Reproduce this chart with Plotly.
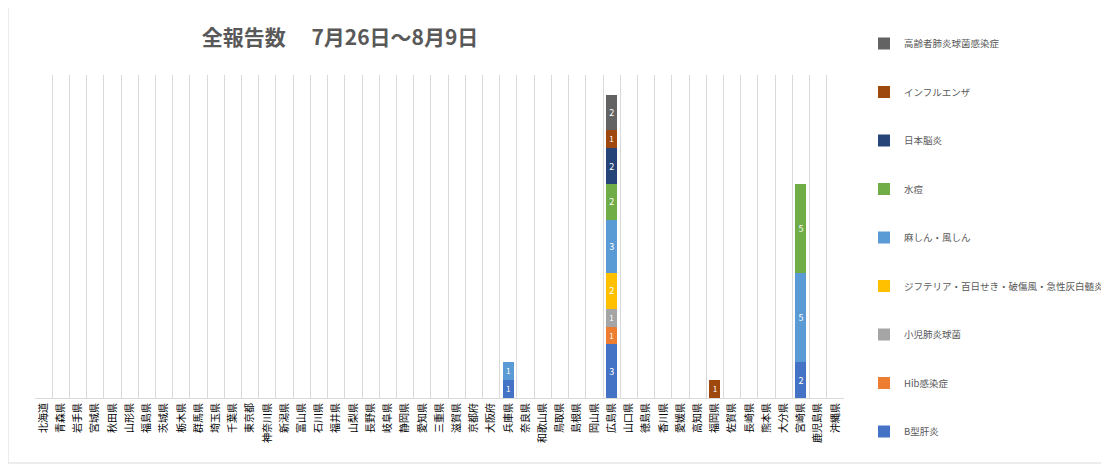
import plotly.graph_objects as go

prefectures = ["北海道", "青森県", "岩手県", "宮城県", "秋田県", "山形県", "福島県", "茨城県", "栃木県", "群馬県",
               "埼玉県", "千葉県", "東京都", "神奈川県", "新潟県", "富山県", "石川県", "福井県", "山梨県", "長野県",
               "岐阜県", "静岡県", "愛知県", "三重県", "滋賀県", "京都府", "大阪府", "兵庫県", "奈良県", "和歌山県",
               "鳥取県", "島根県", "岡山県", "広島県", "山口県", "徳島県", "香川県", "愛媛県", "高知県", "福岡県",
               "佐賀県", "長崎県", "熊本県", "大分県", "宮崎県", "鹿児島県", "沖縄県"]

series_names = ["B型肝炎", "Hib感染症", "小児肺炎球菌", "ジフテリア・百日せき・破傷風・急性灰白髄炎",
                "麻しん・風しん", "水痘", "日本脳炎", "インフルエンザ", "高齢者肺炎球菌感染症"]
series_colors = ["#4472C4", "#ED7D31", "#A5A5A5", "#FFC000", "#5B9BD5", "#70AD47", "#264478", "#9E480E", "#636363"]

def pref_values(d):
    return [d.get(p, 0) for p in prefectures]

b_kanen = pref_values({"兵庫県": 1, "広島県": 3, "宮崎県": 2})
hib = pref_values({"広島県": 1})
shoni_haien = pref_values({"広島県": 1})
dpt_ipv = pref_values({"広島県": 2})
mr = pref_values({"兵庫県": 1, "広島県": 3, "宮崎県": 5})
suito = pref_values({"広島県": 2, "宮崎県": 5})
nihon_noen = pref_values({"広島県": 2})
influenza = pref_values({"広島県": 1, "福岡県": 1})
koreisha_haien = pref_values({"広島県": 2})

series_values = [b_kanen, hib, shoni_haien, dpt_ipv, mr, suito, nihon_noen, influenza, koreisha_haien]

FONT = "Noto Sans CJK JP"
fig = go.Figure()
n = len(series_names)
for i, (name, color, vals) in enumerate(zip(series_names, series_colors, series_values)):
    y = [v if v else None for v in vals]
    fig.add_trace(go.Bar(
        x=prefectures, y=y, name=name, marker_color=color, marker_line_width=0,
        text=[str(v) if v else "" for v in vals], textposition="inside",
        insidetextanchor="middle", textangle=0,
        textfont=dict(color="white", size=9, family=FONT),
        legendgroup=name, legendrank=100 + (n - i),
    ))

# page body has an 8px margin; work in screen pixels and shift
OFF = 8
SW, SH = 1109, 469
W, H = SW - OFF, SH - OFF
# plot area in screen pixels
pl, pr, pt, pb = 35, 844, 75, 398
ml, mt = pl - OFF, pt - OFF
mr_ = W - (pr - OFF)
mb = H - (pb - OFF)
pw = W - ml - mr_
ph = H - mt - mb

def px_x(x):
    return (x - OFF - ml) / pw

def px_y(y):
    return (H - mb - (y - OFF)) / ph

fig.update_layout(
    width=W, height=H,
    barmode="stack", bargap=0.36,
    margin=dict(l=ml, r=mr_, t=mt, b=mb, autoexpand=False),
    paper_bgcolor="white", plot_bgcolor="white",
    font=dict(family=FONT, color="#595959"),
    title=dict(text="<b>全報告数　 7月26日～8月9日</b>", x=(340 - OFF) / W, xanchor="center",
               y=1 - (38 - OFF) / H, yanchor="middle", font=dict(size=21, color="#595959", family=FONT)),
    xaxis=dict(type="category", tickangle=-90, tickson="boundaries", showgrid=True,
               gridcolor="#D9D9D9", gridwidth=1, showline=True, linecolor="#D9D9D9",
               ticks="", tickfont=dict(size=10, color="#000000", family=FONT)),
    yaxis=dict(range=[0, 18.1], visible=False, showgrid=False),
    legend=dict(x=px_x(864), y=px_y(29), xanchor="left", yanchor="top",
                traceorder="grouped", tracegroupgap=29.5, maxheight=1.0,
                font=dict(size=9.5, color="#595959", family=FONT),
                itemwidth=30, bgcolor="rgba(0,0,0,0)"),
    shapes=[dict(type="rect", xref="paper", yref="paper",
                 x0=px_x(8), x1=px_x(1104), y0=px_y(463), y1=px_y(5),
                 line=dict(color="#D9D9D9", width=1), layer="below")],
)

fig.write_html("out.html")
